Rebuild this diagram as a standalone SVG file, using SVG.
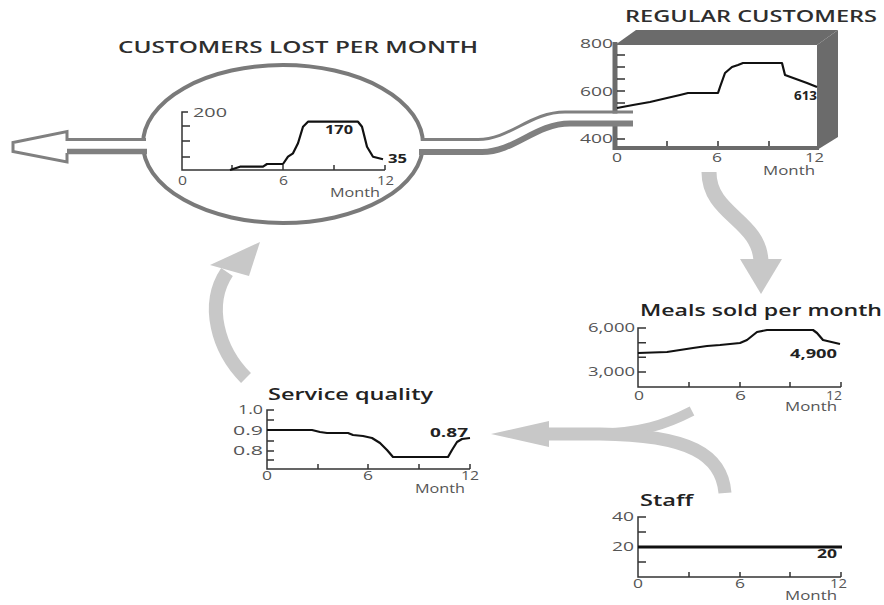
<svg xmlns="http://www.w3.org/2000/svg" width="884" height="605" viewBox="0 0 884 605">
<style>
text { font-family: "Open Sans", "DejaVu Sans", sans-serif; }
.title { font-size:17px; font-weight:600; fill:#2e2e2e; }
.lab { font-size:13px; fill:#555; }
.val { font-size:13px; font-weight:700; fill:#222; }
.ax { stroke:#333; stroke-width:1.5; fill:none; }
.data { stroke:#111; stroke-width:2.2; fill:none; stroke-linejoin:round; }
.flow { stroke:#c8c8c8; fill:none; }
.head { fill:#c8c8c8; }
.pipe { fill:none; stroke:#808080; }
.box { fill:#6b6b6b; }
</style>
<rect width="884" height="605" fill="#fff"/>

<g id="customers-lost">
  <ellipse cx="283" cy="144" rx="140" ry="79" fill="#fff" stroke="#7a7a7a" stroke-width="4"/>
  <text class="title" x="118" y="53" textLength="360" lengthAdjust="spacingAndGlyphs">CUSTOMERS LOST PER MONTH</text>
  <path class="ax" d="M188,112 H182 V170 H385 M182,126 H190 M182,141 H190 M182,157 H190 M232,170 V165 M283,170 V165 M334,170 V165 M385,170 V165"/>
  <path class="data" d="M230,170 L240,166.7 L263,166.7 L267,164 L283,164 L288,156.7 L293,153.3 L298,143.3 L303,126.7 L308,121.7 L358,121.7 L362,126.7 L367,146.7 L373,156.7 L383,159.3"/>
  <text class="lab" x="193" y="117" textLength="34" lengthAdjust="spacingAndGlyphs">200</text>
  <text class="lab" x="178" y="185" textLength="9" lengthAdjust="spacingAndGlyphs">0</text>
  <text class="lab" x="279" y="185" textLength="9" lengthAdjust="spacingAndGlyphs">6</text>
  <text class="lab" x="377" y="185" textLength="17" lengthAdjust="spacingAndGlyphs">12</text>
  <text class="lab" x="330" y="197" textLength="50" lengthAdjust="spacingAndGlyphs">Month</text>
  <text class="val" x="325" y="134" textLength="28" lengthAdjust="spacingAndGlyphs">170</text>
  <text class="val" x="388" y="163" textLength="19" lengthAdjust="spacingAndGlyphs">35</text>
</g>

<g id="regular-customers">
  <text class="title" x="625" y="22" textLength="252" lengthAdjust="spacingAndGlyphs">REGULAR CUSTOMERS</text>
  <polygon class="box" points="615,45 636,30 838,30 817,45"/>
  <polygon class="box" points="817,45 838,30 838,137 817,150"/>
  <line x1="615" y1="42" x2="615" y2="150" stroke="#6b6b6b" stroke-width="5"/>
  <line x1="613" y1="148" x2="819" y2="148" stroke="#6b6b6b" stroke-width="4"/>
  <path class="ax" d="M617,55 H625 M617,67 H625 M617,79 H625 M617,91 H625 M617,103 H625 M617,139 H625 M667,146 V141 M718,146 V141 M769,146 V141"/>
  <path class="data" d="M617,108 L633,105 L650,102 L667,98 L680,95 L688,93 L718,93 L720,87 L725,73 L732,67 L738,65 L743,63 L782,63 L785,75 L807,83 L817,87"/>
  <text class="lab" x="580" y="48" textLength="33" lengthAdjust="spacingAndGlyphs">800</text>
  <text class="lab" x="580" y="96" textLength="33" lengthAdjust="spacingAndGlyphs">600</text>
  <text class="lab" x="580" y="143" textLength="33" lengthAdjust="spacingAndGlyphs">400</text>
  <text class="lab" x="612" y="162" textLength="10" lengthAdjust="spacingAndGlyphs">0</text>
  <text class="lab" x="712" y="162" textLength="10" lengthAdjust="spacingAndGlyphs">6</text>
  <text class="lab" x="805" y="162" textLength="19" lengthAdjust="spacingAndGlyphs">12</text>
  <text class="lab" x="763" y="175" textLength="52" lengthAdjust="spacingAndGlyphs">Month</text>
  <text class="val" x="794" y="100" textLength="23" lengthAdjust="spacingAndGlyphs">613</text>
</g>

<g id="meals-sold">
  <text class="title" x="640" y="316" textLength="242" lengthAdjust="spacingAndGlyphs" style="font-size:16px;fill:#222">Meals sold per month</text>
  <path class="ax" d="M646,328 H638 V387 H841 M638,342.7 H646 M638,357.3 H646 M638,372 H646 M689,387 V382 M740,387 V382 M790,387 V382 M841,387 V382"/>
  <path class="data" d="M638,353 L667,352 L693,348 L707,346 L720,345 L740,343 L747,340 L757,332 L767,330 L813,330 L817,333 L823,340 L840,344"/>
  <text class="lab" x="588" y="332" textLength="47" lengthAdjust="spacingAndGlyphs">6,000</text>
  <text class="lab" x="588" y="376" textLength="47" lengthAdjust="spacingAndGlyphs">3,000</text>
  <text class="lab" x="634" y="400" textLength="10" lengthAdjust="spacingAndGlyphs">0</text>
  <text class="lab" x="735" y="400" textLength="11" lengthAdjust="spacingAndGlyphs">6</text>
  <text class="lab" x="826" y="400" textLength="16" lengthAdjust="spacingAndGlyphs">12</text>
  <text class="lab" x="785" y="411" textLength="52" lengthAdjust="spacingAndGlyphs">Month</text>
  <text class="val" x="790" y="358" textLength="47" lengthAdjust="spacingAndGlyphs">4,900</text>
</g>

<g id="service-quality">
  <text class="title" x="268" y="400" textLength="165" lengthAdjust="spacingAndGlyphs" style="font-size:16px;fill:#222">Service quality</text>
  <path class="ax" d="M274,410 H267 V469 H470 M267,420 H274 M267,430 H274 M267,441 H274 M267,451 H274 M267,460 H274 M318,469 V464 M368,469 V464 M419,469 V464 M470,469 V464"/>
  <path class="data" d="M267,430 L312,430 L320,432 L327,433 L348,433 L353,435 L363,436 L372,438 L380,443 L387,450 L393,457 L448,457 L452,450 L457,442 L462,439 L470,438"/>
  <text class="lab" x="238" y="414" textLength="25" lengthAdjust="spacingAndGlyphs">1.0</text>
  <text class="lab" x="233" y="435" textLength="30" lengthAdjust="spacingAndGlyphs">0.9</text>
  <text class="lab" x="233" y="455" textLength="30" lengthAdjust="spacingAndGlyphs">0.8</text>
  <text class="lab" x="262" y="480" textLength="10" lengthAdjust="spacingAndGlyphs">0</text>
  <text class="lab" x="363" y="480" textLength="10" lengthAdjust="spacingAndGlyphs">6</text>
  <text class="lab" x="461" y="480" textLength="18" lengthAdjust="spacingAndGlyphs">12</text>
  <text class="lab" x="415" y="493" textLength="50" lengthAdjust="spacingAndGlyphs">Month</text>
  <text class="val" x="430" y="437" textLength="38" lengthAdjust="spacingAndGlyphs">0.87</text>
</g>

<g id="staff">
  <text class="title" x="640" y="506" textLength="53" lengthAdjust="spacingAndGlyphs" style="font-size:16px;fill:#222">Staff</text>
  <path class="ax" d="M646,517 H638 V577 H841 M638,532 H646 M638,562 H646 M689,577 V572 M740,577 V572 M790,577 V572 M841,577 V572"/>
  <line x1="638" y1="547" x2="842" y2="547" stroke="#111" stroke-width="3"/>
  <text class="lab" x="612" y="521" textLength="22" lengthAdjust="spacingAndGlyphs">40</text>
  <text class="lab" x="612" y="551" textLength="22" lengthAdjust="spacingAndGlyphs">20</text>
  <text class="lab" x="633" y="588" textLength="10" lengthAdjust="spacingAndGlyphs">0</text>
  <text class="lab" x="735" y="588" textLength="10" lengthAdjust="spacingAndGlyphs">6</text>
  <text class="lab" x="830" y="588" textLength="17" lengthAdjust="spacingAndGlyphs">12</text>
  <text class="lab" x="785" y="600" textLength="52" lengthAdjust="spacingAndGlyphs">Month</text>
  <text class="val" x="817" y="558" textLength="20" lengthAdjust="spacingAndGlyphs">20</text>
</g>

<g id="connectors">
  <!-- outflow pipe to the left -->
  <rect x="139" y="141" width="14" height="8" fill="#fff"/>
  <path class="pipe" stroke-width="3" d="M146,139.5 H67 V131.5 L13,142.5 V151.5 L67,162 V153"/>
  <path class="pipe" stroke-width="5.5" stroke="#777" d="M67,151.5 H147"/>
  <!-- pipe from regular customers into the circle -->
  <rect x="413" y="141" width="14" height="8.5" fill="#fff"/>
  <rect x="605" y="113.5" width="30" height="7.5" fill="#fff"/>
  <path class="pipe" stroke-width="3" d="M421,139.5 H478 C510,139.5 530,112 565,112 H633"/>
  <path class="pipe" stroke-width="6" stroke="#777" d="M419,152 H482 C515,152 535,123.5 570,123.5 H633"/>
  <!-- regular customers -> meals sold -->
  <path class="flow" stroke-width="15" d="M709,172 C709,215 760,220 761,262"/>
  <polygon class="head" points="740,259 782,259 761,294"/>
  <!-- meals sold + staff -> service quality -->
  <path class="flow" stroke-width="10" d="M692,411 C665,425 640,433 595,434 L545,434"/>
  <path class="flow" stroke-width="13" d="M725,493 C722,455 690,435 600,434 L545,434"/>
  <polygon class="head" points="549,421 549,447 491,434"/>
  <!-- service quality -> customers lost -->
  <path class="flow" stroke-width="14" d="M246,378 C218,350 205,305 227,272"/>
  <polygon class="head" points="210,265 249,276 260,242"/>
</g>
</svg>
